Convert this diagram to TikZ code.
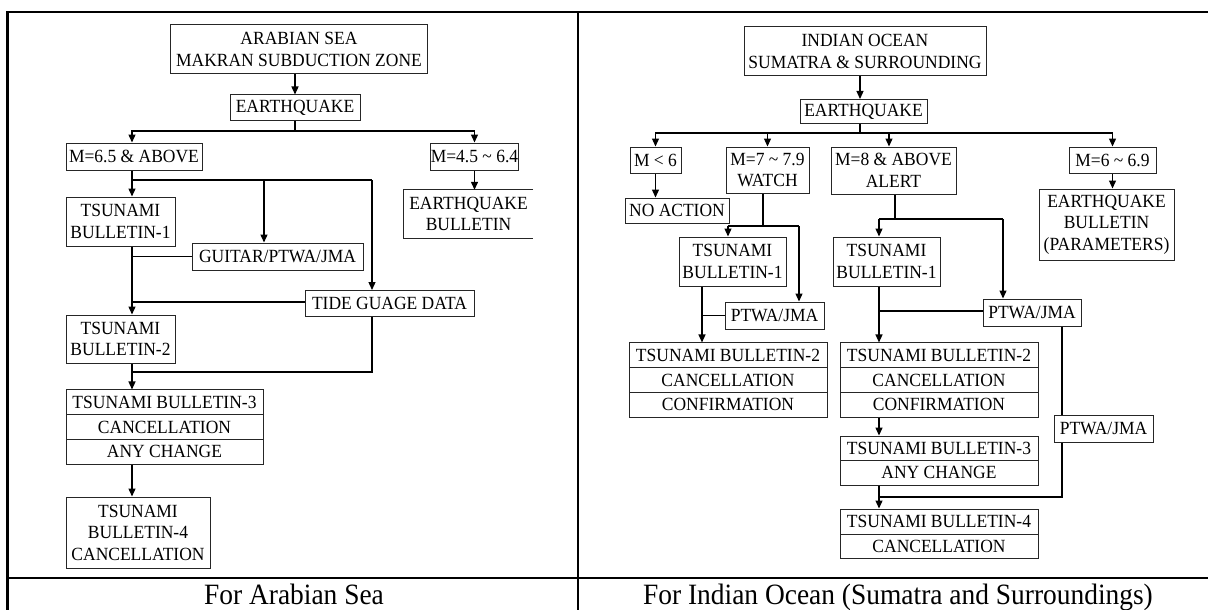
\documentclass[tikz,border=0pt]{standalone}
\usepackage{fontspec}
\setmainfont{Liberation Serif}
\newfontfamily\boxfont[FakeStretch=0.94]{Liberation Serif}
\newfontfamily\capfont[FakeStretch=0.93]{Liberation Serif}
\usetikzlibrary{arrows.meta}

\tikzset{
  box/.style={draw=black!85, line width=1pt, inner sep=0pt, align=center,
              font=\boxfont\fontsize{18.6}{21.5}\selectfont},
  openbox/.style={inner sep=0pt, align=center, font=\boxfont\fontsize{18.6}{21.5}\selectfont},
  conn/.style={line width=1.3pt, black},
  arr/.style={conn, -{Triangle[length=8pt,width=7pt]}},
  frame/.style={line width=2.5pt, black},
  captiontext/.style={font=\capfont\fontsize{29.5}{34}\selectfont, anchor=base},
}

\begin{document}
\begin{tikzpicture}[x=1pt, y=-1pt]
\useasboundingbox (0,0) rectangle (1208,610);

% outer table rules
\draw[frame] (7.5,640) -- (7.5,12) -- (1215,12);
\draw[frame] (578,12) -- (578,640);
\draw[frame] (7.5,578) -- (1215,578);

% ---------------- Arabian Sea ----------------
\node[box, minimum width=257pt, minimum height=49pt] (L0) at (299,49.5)
  {ARABIAN SEA\\MAKRAN SUBDUCTION ZONE};
\node[box, minimum width=130pt, minimum height=25pt] (Leq) at (295,107.5) {EARTHQUAKE};
\node[box, minimum width=136pt, minimum height=27pt] (Lm65) at (134,156.5) {M=6.5 \& ABOVE};
\node[box, minimum width=87pt, minimum height=27pt] (Lm45) at (474.5,156.5) {M=4.5 \textasciitilde{} 6.4};
\node[openbox, minimum width=129pt, minimum height=48pt] (Leqb) at (468.5,214) {EARTHQUAKE\\BULLETIN};
\draw[draw=black!85, line width=1pt] (Leqb.north east) -- (Leqb.north west)
  -- (Leqb.south west) -- (Leqb.south east);
\node[box, minimum width=109pt, minimum height=49pt] (Ltb1) at (120.5,221.5) {TSUNAMI\\BULLETIN-1};
\node[box, minimum width=171pt, minimum height=27pt] (Lgui) at (277.5,256.5) {GUITAR/PTWA/JMA};
\node[box, minimum width=169pt, minimum height=26pt] (Ltide) at (389.5,303.5) {TIDE GUAGE DATA};
\node[box, minimum width=109pt, minimum height=48pt] (Ltb2) at (120.5,339) {TSUNAMI\\BULLETIN-2};
\node[box, minimum width=197pt, minimum height=24.7pt] (Ltb3a) at (164.5,402.3) {TSUNAMI BULLETIN-3};
\node[box, minimum width=197pt, minimum height=24.7pt] (Ltb3b) at (164.5,427) {CANCELLATION};
\node[box, minimum width=197pt, minimum height=24.7pt] (Ltb3c) at (164.5,451.7) {ANY CHANGE};
\node[box, minimum width=144pt, minimum height=71pt] (Ltb4) at (138,532.5)
  {TSUNAMI\\BULLETIN-4\\CANCELLATION};

\coordinate (LxT) at (132,0);
\coordinate (Lj1) at (295,131);
\coordinate (Lj2) at (132,180);
\coordinate (Lgx) at (264,180);
\coordinate (Lj2e) at (372,180);
\coordinate (Lj3) at (132,372);
\coordinate (Ltw) at ([yshift=1.5pt]Ltide.west);

\draw[arr] (L0.south -| Leq.north) -- (Leq.north);
\draw[conn] (Leq.south) -- (Lj1);
\draw[arr] (Lj1) -| (LxT |- Lm65.north);
\draw[arr] (Lj1) -| (Lm45.north);
\draw[arr] (Lm45.south) -- (Lm45.south |- Leqb.north);
\draw[arr] (LxT |- Lm65.south) -- (LxT |- Ltb1.north);
\draw[conn] (Lj2) -- (Lj2e);
\draw[arr] (Lgx) -- (Lgx |- Lgui.north);
\draw[arr] (Lj2e) -- (Lj2e |- Ltide.north);
\draw[conn] (Lgui.west) -- (LxT |- Lgui.west);
\draw[conn] (Ltw) -- (LxT |- Ltw);
\draw[arr] (LxT |- Ltb1.south) -- (LxT |- Ltb2.north);
\draw[conn] (Lj2e |- Ltide.south) |- (Lj3);
\draw[arr] (LxT |- Ltb2.south) -- (LxT |- Ltb3a.north);
\draw[arr] (LxT |- Ltb3c.south) -- (LxT |- Ltb4.north);

\node[captiontext] (capL) at (294,604) {For Arabian Sea};

% ---------------- Indian Ocean ----------------
\node[box, minimum width=242pt, minimum height=49pt] (R0) at (865,51.5)
  {INDIAN OCEAN\\SUMATRA \& SURROUNDING};
\node[box, minimum width=127pt, minimum height=24pt] (Req) at (863.5,111.5) {EARTHQUAKE};
\node[box, minimum width=51pt, minimum height=26pt] (Rm6) at (655.5,160) {M < 6};
\node[box, minimum width=83pt, minimum height=46pt] (Rm7) at (767.5,170) {M=7 \textasciitilde{} 7.9\\WATCH};
\node[box, minimum width=125pt, minimum height=47pt] (Rm8) at (893.5,170.5) {M=8 \& ABOVE\\ALERT};
\node[box, minimum width=87pt, minimum height=26pt] (Rm69) at (1112.5,160) {M=6 \textasciitilde{} 6.9};
\node[box, minimum width=135pt, minimum height=71pt] (Reqb) at (1106.5,224.5)
  {EARTHQUAKE\\BULLETIN\\(PARAMETERS)};
\node[box, minimum width=104pt, minimum height=25pt] (Rno) at (677,210.5) {NO ACTION};
\node[box, minimum width=107pt, minimum height=49pt] (Rtb1a) at (732.5,261.5) {TSUNAMI\\BULLETIN-1};
\node[box, minimum width=99pt, minimum height=27pt] (Rp1) at (774.5,315.5) {PTWA/JMA};
\node[box, minimum width=198pt, minimum height=24.7pt] (Rtb2a1) at (728,355.3) {TSUNAMI BULLETIN-2};
\node[box, minimum width=198pt, minimum height=24.7pt] (Rtb2a2) at (728,380) {CANCELLATION};
\node[box, minimum width=198pt, minimum height=24.7pt] (Rtb2a3) at (728,404.7) {CONFIRMATION};
\node[box, minimum width=107pt, minimum height=49pt] (Rtb1b) at (886.5,261.5) {TSUNAMI\\BULLETIN-1};
\node[box, minimum width=98pt, minimum height=27pt] (Rp2) at (1032,312.5) {PTWA/JMA};
\node[box, minimum width=198pt, minimum height=24.7pt] (Rtb2b1) at (939,355.3) {TSUNAMI BULLETIN-2};
\node[box, minimum width=198pt, minimum height=24.7pt] (Rtb2b2) at (939,380) {CANCELLATION};
\node[box, minimum width=198pt, minimum height=24.7pt] (Rtb2b3) at (939,404.7) {CONFIRMATION};
\node[box, minimum width=99pt, minimum height=27pt] (Rp3) at (1103.5,428.5) {PTWA/JMA};
\node[box, minimum width=198pt, minimum height=24.5pt] (Rtb3a) at (939,448.3) {TSUNAMI BULLETIN-3};
\node[box, minimum width=198pt, minimum height=24.5pt] (Rtb3b) at (939,472.8) {ANY CHANGE};
\node[box, minimum width=198pt, minimum height=25pt] (Rtb4a) at (939,521.5) {TSUNAMI BULLETIN-4};
\node[box, minimum width=198pt, minimum height=24pt] (Rtb4b) at (939,546.5) {CANCELLATION};

\coordinate (RxA) at (860,0);
\coordinate (Rj1) at (860,133);
\coordinate (Rx8) at (889,0);
\coordinate (Rw) at (763,226);
\coordinate (RwL) at (728,226);
\coordinate (RwR) at (799,226);
\coordinate (Rxa) at (702,0);
\coordinate (Ra) at (895,219);
\coordinate (RaL) at (879,219);
\coordinate (RaR) at (1003,219);
\coordinate (Rxb) at (879,0);
\coordinate (Rxp) at (1062,0);
\coordinate (Rj4) at (879,497);
\coordinate (Rpw) at ([yshift=1.5pt]Rp2.west);

\draw[arr] (RxA |- R0.south) -- (RxA |- Req.north);
\draw[conn] (RxA |- Req.south) -- (Rj1);
\draw[arr] (Rj1) -| (Rm6.north);
\draw[arr] (Rj1) -| (Rm7.north);
\draw[arr] (Rj1) -| (Rx8 |- Rm8.north);
\draw[arr] (Rj1) -| (Rm69.north);
\draw[arr] (Rm6.south) -- (Rm6.south |- Rno.north);
\draw[arr] (Rm69.south) -- (Rm69.south |- Reqb.north);

\draw[conn] (Rw |- Rm7.south) -- (Rw);
\draw[conn] (RwL) -- (RwR);
\draw[arr] (RwL) -- (RwL |- Rtb1a.north);
\draw[arr] (RwR) -- (RwR |- Rp1.north);
\draw[arr] (Rxa |- Rtb1a.south) -- (Rxa |- Rtb2a1.north);
\draw[conn] (Rp1.west) -- (Rxa |- Rp1.west);

\draw[conn] (Ra |- Rm8.south) -- (Ra);
\draw[conn] (RaL) -- (RaR);
\draw[arr] (RaL) -- (RaL |- Rtb1b.north);
\draw[arr] (RaR) -- (RaR |- Rp2.north);
\draw[arr] (Rxb |- Rtb1b.south) -- (Rxb |- Rtb2b1.north);
\draw[conn] (Rpw) -- (Rxb |- Rpw);
\draw[conn] (Rxp |- Rp2.south) -- (Rxp |- Rp3.north);
\draw[conn] (Rxp |- Rp3.south) |- (Rj4);
\draw[arr] (Rxb |- Rtb2b3.south) -- (Rxb |- Rtb3a.north);
\draw[arr] (Rxb |- Rtb3b.south) -- (Rxb |- Rtb4a.north);

\node[captiontext] (capR) at (898,604) {For Indian Ocean (Sumatra and Surroundings)};
\end{tikzpicture}
\end{document}
